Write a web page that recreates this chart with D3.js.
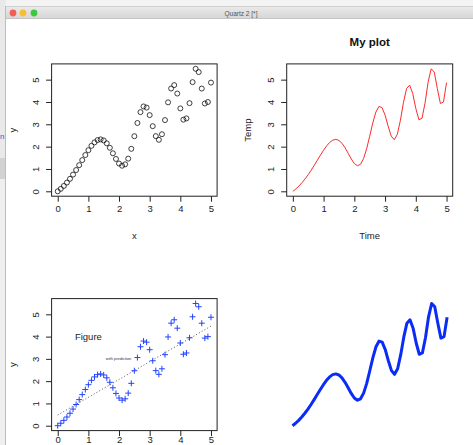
<!DOCTYPE html>
<html><head><meta charset="utf-8">
<script src="https://cdn.jsdelivr.net/npm/d3@7"></script>
<style>
html,body{margin:0;padding:0;background:#fff;}
svg{display:block;font-family:"Liberation Sans",Arial,Helvetica,sans-serif;}
</style></head>
<body>
<svg id="c" width="473" height="445"></svg>
<script>
// ---- data ----
const xs = [0,0.1,0.2,0.3,0.4,0.5,0.6,0.7,0.8,0.9,1.0,1.1,1.2,1.3,1.4,1.5,1.6,1.7,1.8,1.9,2.0,
  2.1,2.2,2.3,2.4,2.5,2.6,2.7,2.8,2.9,3.0,3.1,3.2,3.3,3.4,3.5,3.6,3.7,3.8,3.9,4.0,
  4.1,4.2,4.3,4.4,4.5,4.6,4.7,4.8,4.9,5.0];
const ys = [0,0.11,0.24,0.39,0.559,0.747,0.952,1.171,1.397,1.624,1.841,2.036,2.191,2.293,2.325,2.278,
  2.149,1.949,1.702,1.449,1.243,1.145,1.208,1.462,1.902,2.467,3.059,3.545,3.800,3.749,3.412,
  2.916,2.472,2.306,2.555,3.189,3.984,4.602,4.755,4.378,3.712,3.208,3.265,3.948,4.889,5.486,
  5.339,4.601,3.933,3.999,4.868];
const xTicks = [0,1,2,3,4,5];
const yTicks = [0,1,2,3,4,5];
const fitX = [0,5];
const fitY = [0.48,4.47];
const figureLabel = {x:1, y:4, text:"Figure"};
const predLabel = {x:2.5, y:3, text:"with prediction"};

const svg = d3.select("#c");
const FONT = '"Liberation Sans",Arial,Helvetica,sans-serif';

// ---- window chrome ----
svg.append("rect").attr("x",0).attr("y",0).attr("width",473).attr("height",445).attr("fill","#f3f3f3");
svg.append("rect").attr("x",0).attr("y",0).attr("width",6).attr("height",158).attr("fill","#e9e9e9");
svg.append("rect").attr("x",0).attr("y",158).attr("width",6).attr("height",21).attr("fill","#d2d2d2");
svg.append("rect").attr("x",0).attr("y",179).attr("width",6).attr("height",266).attr("fill","#efefef");
svg.append("text").attr("x",0).attr("y",139).attr("fill","#2a5bd7").attr("font-size",8).attr("font-family",FONT).text("n");
svg.append("line").attr("x1",5.5).attr("x2",5.5).attr("y1",6).attr("y2",445).attr("stroke","#bdbdbd");
// window
svg.append("rect").attr("x",6).attr("y",19).attr("width",467).attr("height",426).attr("fill","#ffffff");
const grad = svg.append("defs").append("linearGradient").attr("id","tb").attr("x1",0).attr("x2",0).attr("y1",0).attr("y2",1);
grad.append("stop").attr("offset","0%").attr("stop-color","#ebebeb");
grad.append("stop").attr("offset","100%").attr("stop-color","#d5d5d5");
svg.append("rect").attr("x",6).attr("y",6).attr("width",467).attr("height",13).attr("fill","url(#tb)");
svg.append("line").attr("x1",6).attr("x2",473).attr("y1",6.5).attr("y2",6.5).attr("stroke","#cfcfcf");
svg.append("line").attr("x1",6).attr("x2",473).attr("y1",18.5).attr("y2",18.5).attr("stroke","#c4c4c4");
[[13,"#f25f58"],[23,"#f9be30"],[34,"#3fc741"]].forEach(([cx,c])=>{
  svg.append("circle").attr("cx",cx).attr("cy",13).attr("r",3.4).attr("fill",c);
});
svg.append("text").attr("x",241).attr("y",15.5).attr("text-anchor","middle").attr("font-size",6.5)
  .attr("fill","#555").attr("font-family",FONT).text("Quartz 2 [*]");

// ---- panels ----
const yDom = [-0.2194, 5.7054];
const xDom = [-0.2, 5.2];
function panel(box, opts){
  const g = svg.append("g");
  const x = d3.scaleLinear().domain(xDom).range([box.l, box.r]);
  const y = d3.scaleLinear().domain(yDom).range([box.b, box.t]);
  if(opts.axes){
    g.append("rect").attr("x",box.l).attr("y",box.t).attr("width",box.r-box.l).attr("height",box.b-box.t)
      .attr("fill","none").attr("stroke","#222").attr("stroke-width",1);
    const ax = g.append("g").attr("transform",`translate(0,${box.b})`)
      .call(d3.axisBottom(x).tickValues(xTicks).tickSize(5.5).tickPadding(opts.xpad).tickFormat(d3.format("d")).tickSizeOuter(0));
    ax.select(".domain").remove();
    ax.selectAll("line").attr("stroke","#222");
    ax.selectAll("text").attr("font-size",9.5).attr("font-family",FONT).attr("fill","#222");
    const ay = g.append("g").attr("transform",`translate(${box.l},0)`)
      .call(d3.axisLeft(y).tickValues(yTicks).tickSize(5.5).tickFormat(d3.format("d")).tickSizeOuter(0));
    ay.select(".domain").remove();
    ay.selectAll("line").attr("stroke","#222");
    ay.selectAll("text").attr("x",0).attr("dy",null).attr("text-anchor","middle")
      .attr("dominant-baseline","central")
      .attr("transform","translate(-16.5,0) rotate(-90)")
      .attr("font-size",9.5).attr("font-family",FONT).attr("fill","#222");
    if(opts.xlab) g.append("text").attr("x",(box.l+box.r)/2).attr("y",box.b+43).attr("text-anchor","middle")
      .attr("font-size",9.5).attr("font-family",FONT).attr("fill","#222").text(opts.xlab);
    g.append("text").attr("transform",`translate(${box.l-36},${(box.t+box.b)/2}) rotate(-90)`)
      .attr("text-anchor","middle").attr("font-size",9.5).attr("font-family",FONT).attr("fill","#222").text(opts.ylab);
  }
  return {g,x,y};
}

// top-left: points
{
  const p = panel({l:51.6,r:217.1,t:63.9,b:196.2},{axes:true,xlab:"x",ylab:"y",xpad:4});
  p.g.selectAll("circle.pt").data(xs).join("circle").attr("class","pt")
    .attr("cx",(d)=>p.x(d)).attr("cy",(d,i)=>p.y(ys[i])).attr("r",2.5)
    .attr("fill","none").attr("stroke","#111").attr("stroke-width",0.8);
}
// top-right: red line
{
  const p = panel({l:286.7,r:452.7,t:63.9,b:196.2},{axes:true,xlab:"Time",ylab:"Temp",xpad:4});
  const line = d3.line().x(d=>p.x(d)).y((d,i)=>p.y(ys[i]));
  p.g.append("path").datum(xs).attr("d",line).attr("fill","none").attr("stroke","#ff2a2a").attr("stroke-width",1);
  svg.append("text").attr("x",(286.7+452.7)/2).attr("y",46).attr("text-anchor","middle")
    .attr("font-size",11.5).attr("font-weight","bold").attr("font-family",FONT).attr("fill","#111").text("My plot");
}
// bottom-left: plus markers + fit
{
  const p = panel({l:51.6,r:217.1,t:298.6,b:430.6},{axes:true,xlab:"",ylab:"y",xpad:0.5});
  const s = 3;
  p.g.selectAll("path.pl").data(xs).join("path").attr("class","pl")
    .attr("d",(d,i)=>{const cx=p.x(d), cy=p.y(ys[i]); return `M${cx-s},${cy}H${cx+s}M${cx},${cy-s}V${cy+s}`;})
    .attr("stroke","#2244ff").attr("stroke-width",1).attr("fill","none");
  const fl = d3.line().x(d=>p.x(d)).y((d,i)=>p.y(fitY[i]));
  p.g.append("path").datum(fitX).attr("d",fl).attr("fill","none").attr("stroke","#444")
    .attr("stroke-width",0.9).attr("stroke-dasharray","1,2.2");
  p.g.append("text").attr("x",p.x(figureLabel.x)).attr("y",p.y(figureLabel.y)).attr("dy","0.35em")
    .attr("text-anchor","middle").attr("font-size",9.5).attr("font-family",FONT).attr("fill","#222").text(figureLabel.text);
  p.g.append("text").attr("x",p.x(predLabel.x)-3).attr("y",p.y(predLabel.y)).attr("dy","0.35em")
    .attr("text-anchor","end").attr("font-size",4).attr("font-family",FONT).attr("fill","#333").text(predLabel.text);
}
// bottom-right: thick blue line, no axes
{
  const p = panel({l:286.3,r:453.3,t:298.6,b:430.6},{axes:false});
  const line = d3.line().x(d=>p.x(d)).y((d,i)=>p.y(ys[i]));
  p.g.append("path").datum(xs).attr("d",line).attr("fill","none").attr("stroke","#0a2cf5")
    .attr("stroke-width",3).attr("stroke-linejoin","round");
}
</script>
</body></html>
